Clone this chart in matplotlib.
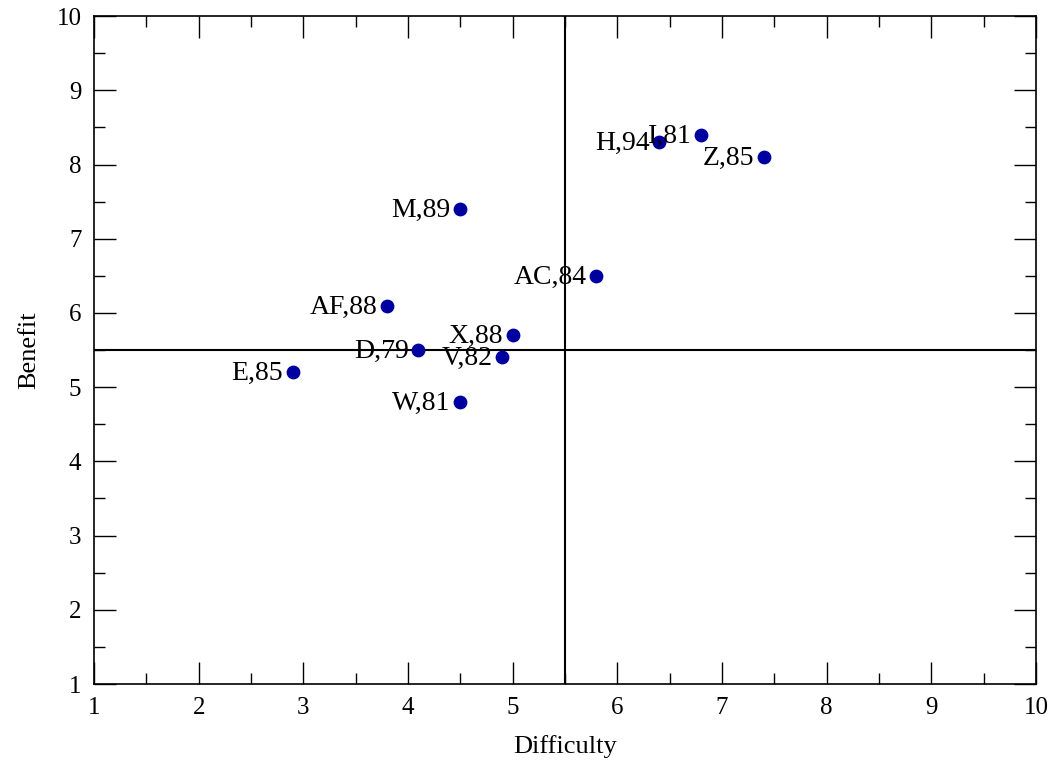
import matplotlib
matplotlib.use("Agg")
import matplotlib.pyplot as plt
from matplotlib.ticker import MultipleLocator

plt.rcParams['font.family'] = ['Liberation Serif', 'DejaVu Serif']

names = ["E,85", "AF,88", "D,79", "M,89", "W,81", "V,82", "X,88",
         "AC,84", "H,94", "I,81", "Z,85"]
difficulty = [2.9, 3.8, 4.1, 4.5, 4.5, 4.9, 5.0, 5.8, 6.4, 6.8, 7.4]
benefit = [5.2, 6.1, 5.5, 7.4, 4.8, 5.4, 5.7, 6.5, 8.3, 8.4, 8.1]
split_x = 5.5
split_y = 5.5

fig = plt.figure(figsize=(10.5, 7.69), dpi=100)
ax = fig.add_axes([0.0895, 0.1105, 0.8972, 0.8686])

ax.axvline(split_x, color='black', lw=1.5, zorder=1)
ax.axhline(split_y, color='black', lw=1.5, zorder=1)
ax.scatter(difficulty, benefit, s=80, color='#0000a0', zorder=3)

# point labels sit just left of each marker
for n, x, y in zip(names, difficulty, benefit):
    ax.annotate(n, (x, y), xytext=(-7, -1), textcoords='offset points',
                ha='right', va='center', fontsize=20, zorder=4)

ax.set_xlim(1, 10)
ax.set_ylim(1, 10)
ax.xaxis.set_major_locator(MultipleLocator(1))
ax.yaxis.set_major_locator(MultipleLocator(1))
ax.xaxis.set_minor_locator(MultipleLocator(0.5))
ax.yaxis.set_minor_locator(MultipleLocator(0.5))
ax.tick_params(which='both', direction='in', top=True, right=True,
               labelsize=18, color='black')
ax.tick_params(which='major', length=16, width=1, pad=9)
ax.tick_params(which='minor', length=8, width=1)

for sp in ax.spines.values():
    sp.set_linewidth(1.2)

ax.set_xlabel("Difficulty", fontsize=19, labelpad=12)
ax.set_ylabel("Benefit", fontsize=19, labelpad=12)

fig.savefig("out.png", dpi=100)
